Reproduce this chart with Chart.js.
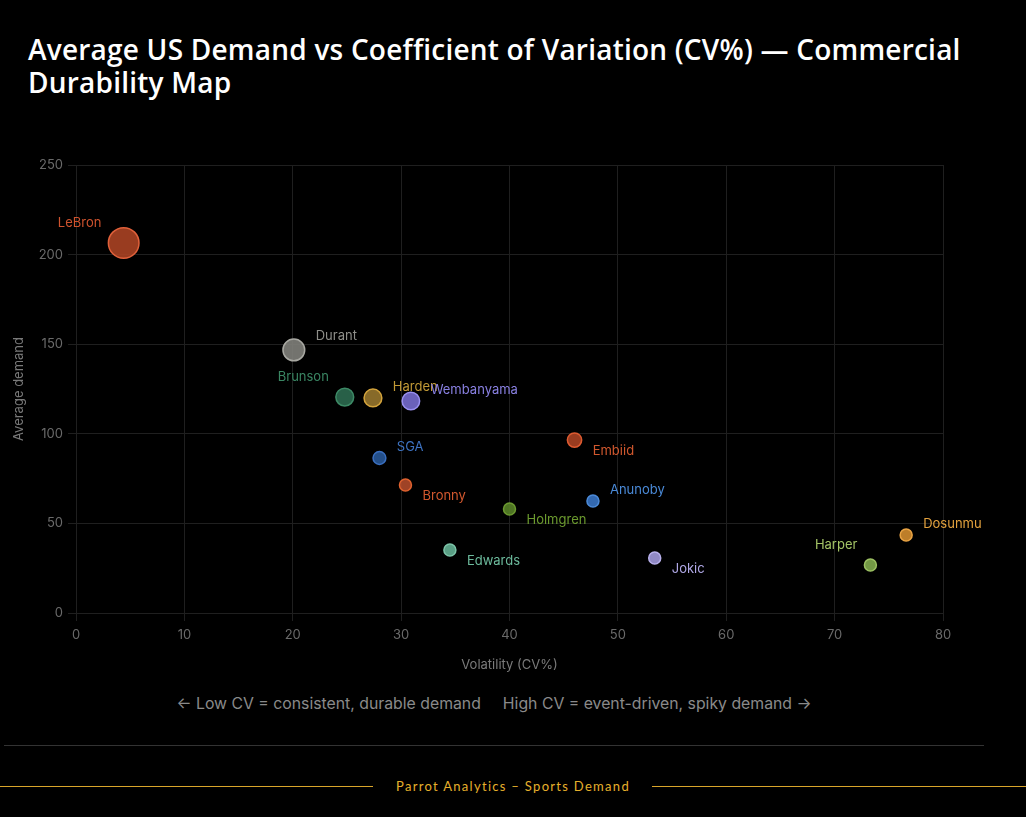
<!DOCTYPE html>
<html>
<head>
<meta charset="utf-8">
<script src="https://cdn.jsdelivr.net/npm/chart.js@4.4.1/dist/chart.umd.min.js"></script>
<style>
  body { margin: 0; background: #000; width: 1026px; height: 817px; overflow: hidden; position: relative; font-family: Inter, Roboto, sans-serif; }
  h1 { position: absolute; left: 28px; top: 33px; margin: 0; width: 950px; font-family: "Open Sans", sans-serif; font-weight: 600; font-size: 28px; line-height: 33px; color: #fff; letter-spacing: 0.22px; }
  #wrap { position: absolute; left: 0; top: 140px; width: 985px; height: 537px; }
  .note { position: absolute; top: 694px; left: 0; width: 988px; text-align: center; color: #8a8a8a; font-size: 15.8px; }
  .note span { margin: 0 11px; }
  .rule { position: absolute; left: 4px; top: 745px; width: 980px; height: 1px; background: #333; }
  .foot { position: absolute; top: 775px; left: 0; width: 1026px; text-align: center; }
  .foot .ln { position: absolute; top: 11px; height: 1px; background: #d9a52a; }
  .foot span { font-family: Lato, sans-serif; font-size: 13px; letter-spacing: 1.3px; color: #e6b02c; }
</style>
</head>
<body>
<h1>Average US Demand vs Coefficient of Variation (CV%) — Commercial Durability Map</h1>
<div id="wrap"><canvas id="bubble"></canvas></div>
<div class="note"><span>← Low CV = consistent, durable demand</span><span>High CV = event-driven, spiky demand →</span></div>
<div class="rule"></div>
<div class="foot"><div class="ln" style="left:0;width:373px"></div><span>Parrot Analytics – Sports Demand</span><div class="ln" style="left:652px;width:374px"></div></div>
<script>
const players = ["LeBron", "Durant", "Brunson", "Harden", "Wembanyama", "SGA", "Bronny", "Embiid", "Holmgren", "Anunoby", "Edwards", "Jokic", "Harper", "Dosunmu"];
const cvPct = [4.4, 20.1, 24.8, 27.4, 30.9, 28.0, 30.4, 46.0, 40.0, 47.7, 34.5, 53.4, 73.3, 76.6];
const avgDemand = [206.5, 146.8, 120.5, 120.0, 118.3, 86.5, 71.4, 96.5, 58.0, 62.5, 35.2, 30.7, 26.8, 43.5];
const xTicks = [0, 10, 20, 30, 40, 50, 60, 70, 80];
const yTicks = [0, 50, 100, 150, 200, 250];

// fill, border colours per player
const colors = {
  LeBron: ["rgba(170,66,36,0.9)", "#e0603a"],
  Durant: ["rgba(128,128,122,0.9)", "#a8a8a2"],
  Brunson: ["rgba(44,106,80,0.9)", "#3d8a66"],
  Harden: ["rgba(150,118,46,0.9)", "#d4a43c"],
  Wembanyama: ["rgba(118,108,206,0.9)", "#9a90f0"],
  SGA: ["rgba(40,88,152,0.9)", "#3a6fc0"],
  Bronny: ["rgba(176,74,42,0.9)", "#e0622f"],
  Embiid: ["rgba(170,66,36,0.9)", "#dd5a30"],
  Holmgren: ["rgba(88,130,40,0.9)", "#6c9a30"],
  Anunoby: ["rgba(56,116,196,0.9)", "#4b8ad8"],
  Edwards: ["rgba(100,176,148,0.9)", "#7cc4a8"],
  Jokic: ["rgba(160,152,218,0.9)", "#b8b0ec"],
  Harper: ["rgba(128,168,76,0.9)", "#9cc062"],
  Dosunmu: ["rgba(210,140,46,0.9)", "#eaa444"]
};
const labelColors = {
  LeBron: "#cf532e", Durant: "#8f8f8a", Brunson: "#3a8663", Harden: "#c29a36", Wembanyama: "#8980e2",
  SGA: "#3d72c0", Bronny: "#d2582e", Embiid: "#d2582e", Holmgren: "#6b9a2e", Anunoby: "#4a8ad8",
  Edwards: "#6cba9c", Jokic: "#b0a8e6", Harper: "#a4c466", Dosunmu: "#e3a23e"
};
// which side of the bubble each name sits: [horizontal, vertical]
const labelSide = {
  LeBron: [-1, -1], Durant: [1, -1], Brunson: [-1, -1], Harden: [1, -1], Wembanyama: [1, -1],
  SGA: [1, -1], Bronny: [1, 1], Embiid: [1, 1], Holmgren: [1, 1], Anunoby: [1, -1],
  Edwards: [1, 1], Jokic: [1, 1], Harper: [-1, -1], Dosunmu: [1, -1]
};

const bubbleR = d => Math.max(6, d / 13.5);

const nameLabels = {
  id: "nameLabels",
  afterDatasetsDraw(chart) {
    const c = chart.ctx;
    const meta = chart.getDatasetMeta(0);
    c.save();
    c.font = "13px Inter, Roboto, sans-serif";
    c.textBaseline = "middle";
    meta.data.forEach((pt, i) => {
      const name = players[i];
      const side = labelSide[name];
      const r = bubbleR(avgDemand[i]);
      c.fillStyle = labelColors[name];
      let x, y;
      if (side[0] > 0) {
        c.textAlign = "left";
        x = pt.x + r + 11;
        y = pt.y + side[1] * (name === "Durant" ? 14 : 11);
      } else {
        c.textAlign = "right";
        x = pt.x - r - 7;
        y = pt.y - 20;
      }
      c.fillText(name, x, y);
    });
    c.restore();
  }
};

new Chart(document.getElementById("bubble"), {
  type: "bubble",
  data: {
    datasets: [{
      data: players.map((p, i) => ({ x: cvPct[i], y: avgDemand[i], r: bubbleR(avgDemand[i]) })),
      backgroundColor: players.map(p => colors[p][0]),
      borderColor: players.map(p => colors[p][1]),
      borderWidth: 1.5
    }]
  },
  options: {
    responsive: true,
    maintainAspectRatio: false,
    animation: false,
    layout: { padding: { left: 7, right: 42, top: 25, bottom: 0 } },
    plugins: { legend: { display: false }, tooltip: { enabled: false } },
    scales: {
      x: {
        type: "linear",
        min: 0, max: 80,
        afterBuildTicks: s => { s.ticks = xTicks.map(v => ({ value: v })); },
        afterFit: s => { s.height = 64; },
        grid: { color: "#1f1f1f", tickColor: "#1f1f1f", tickLength: 8 },
        border: { color: "#1f1f1f" },
        ticks: { color: "#6a6a6a", font: { family: "Inter", size: 13 }, padding: 6 },
        title: { display: true, text: "Volatility (CV%)", color: "#7a7a7a", font: { family: "Inter", size: 13 } }
      },
      y: {
        type: "linear",
        min: 0, max: 250,
        afterBuildTicks: s => { s.ticks = yTicks.map(v => ({ value: v })); },
        afterFit: s => { s.width = 69; },
        grid: { color: "#1f1f1f", tickColor: "#1f1f1f", tickLength: 8 },
        border: { color: "#1f1f1f" },
        ticks: { color: "#6a6a6a", font: { family: "Inter", size: 13 }, padding: 5 },
        title: { display: true, text: "Average demand", color: "#7a7a7a", font: { family: "Inter", size: 13 } }
      }
    }
  },
  plugins: [nameLabels]
});
</script>
</body>
</html>
